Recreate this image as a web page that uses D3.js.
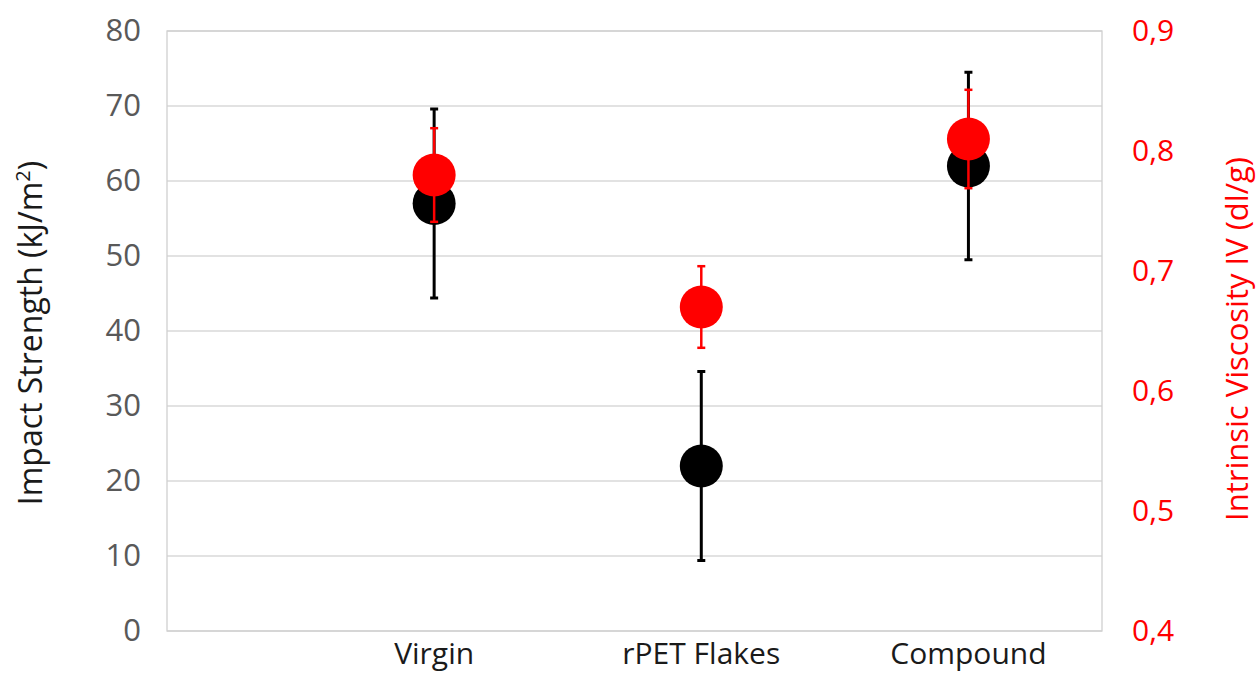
<!DOCTYPE html>
<html>
<head>
<meta charset="utf-8">
<script src="https://cdn.jsdelivr.net/npm/d3@7"></script>
<style>
  body { margin: 0; background: #fff; }
  text { font-family: "Open Sans", "Noto Sans", sans-serif; }
</style>
</head>
<body>
<svg width="1258" height="673"></svg>
<script>
// categories (first slot is empty, like the original sheet)
var categories = ["", "Virgin", "rPET Flakes", "Compound"];
var impact = [null, 57, 22, 62];
var impactErr = [null, 12.6, 12.6, 12.5];
var iv = [null, 0.78, 0.67, 0.81];
var ivErr = [null, 0.039, 0.034, 0.041];
var leftTicks = [0, 10, 20, 30, 40, 50, 60, 70, 80];
var rightTicks = [0.4, 0.5, 0.6, 0.7, 0.8, 0.9];

var svg = d3.select("svg");
var plotL = 167, plotR = 1102, plotT = 31, plotB = 631;

var x = d3.scaleLinear().domain([0, categories.length - 0.5]).range([plotL, plotR]);
var yL = d3.scaleLinear().domain([0, 80]).range([plotB, plotT]);
var yR = d3.scaleLinear().domain([0.4, 0.9]).range([plotB, plotT]);

// gridlines
svg.append("g")
  .selectAll("line")
  .data(leftTicks)
  .join("line")
  .attr("x1", plotL).attr("x2", plotR)
  .attr("y1", d => yL(d)).attr("y2", d => yL(d))
  .attr("stroke", "#d9d9d9").attr("stroke-width", 1.3);

// frame
svg.append("rect")
  .attr("x", plotL).attr("y", plotT)
  .attr("width", plotR - plotL).attr("height", plotB - plotT)
  .attr("fill", "none").attr("stroke", "#d0d0d0").attr("stroke-width", 1.3);

// left axis
var gl = svg.append("g")
  .attr("transform", "translate(" + (plotL - 26) + ",0)")
  .call(d3.axisLeft(yL).tickValues(leftTicks).tickSize(0).tickPadding(0));
gl.select(".domain").remove();
gl.selectAll("text").attr("fill", "#595959").style("font-size", "31px");

// right axis
var gr = svg.append("g")
  .attr("transform", "translate(" + (plotR + 30) + ",0)")
  .call(d3.axisRight(yR).tickValues(rightTicks).tickSize(0).tickPadding(0)
    .tickFormat(d => d3.format(".1f")(d).replace(".", ",")));
gr.select(".domain").remove();
gr.selectAll("text").attr("fill", "#ff0000").style("font-size", "30px");

// category labels
svg.append("g")
  .selectAll("text")
  .data(categories)
  .join("text")
  .attr("x", (d, i) => x(i))
  .attr("y", 664)
  .attr("text-anchor", "middle")
  .attr("fill", "#1a1a1a")
  .style("font-size", "30px")
  .text(d => d);

// axis titles
var lt = svg.append("text")
  .attr("transform", "translate(42,333) rotate(-90)")
  .attr("text-anchor", "middle")
  .attr("fill", "#1a1a1a")
  .style("font-size", "32px");
lt.append("tspan").text("Impact Strength (kJ/m");
lt.append("tspan").attr("dy", -12).style("font-size", "20px").text("2");
lt.append("tspan").attr("dy", 12).text(")");

svg.append("text")
  .attr("transform", "translate(1248,339) rotate(-90)")
  .attr("text-anchor", "middle")
  .attr("fill", "#ff0000")
  .style("font-size", "31px")
  .text("Intrinsic Viscosity IV (dl/g)");

function drawSeries(vals, errs, y, color, sw) {
  var idx = d3.range(vals.length).filter(i => vals[i] != null);
  var g = svg.append("g");
  g.selectAll(".bar").data(idx).join("line")
    .attr("x1", i => x(i)).attr("x2", i => x(i))
    .attr("y1", i => y(vals[i] - errs[i])).attr("y2", i => y(vals[i] + errs[i]))
    .attr("stroke", color).attr("stroke-width", sw);
  [-1, 1].forEach(s => {
    g.selectAll(".cap" + (s > 0 ? "hi" : "lo")).data(idx).join("line")
      .attr("class", "cap" + (s > 0 ? "hi" : "lo"))
      .attr("x1", i => x(i) - 4).attr("x2", i => x(i) + 4)
      .attr("y1", i => y(vals[i] + s * errs[i])).attr("y2", i => y(vals[i] + s * errs[i]))
      .attr("stroke", color).attr("stroke-width", sw);
  });
  g.selectAll("circle").data(idx).join("circle")
    .attr("cx", i => x(i)).attr("cy", i => y(vals[i]))
    .attr("r", 21.5).attr("fill", color);
}

drawSeries(impact, impactErr, yL, "#000000", 3);
drawSeries(iv, ivErr, yR, "#ff0000", 2.5);
</script>
</body>
</html>
